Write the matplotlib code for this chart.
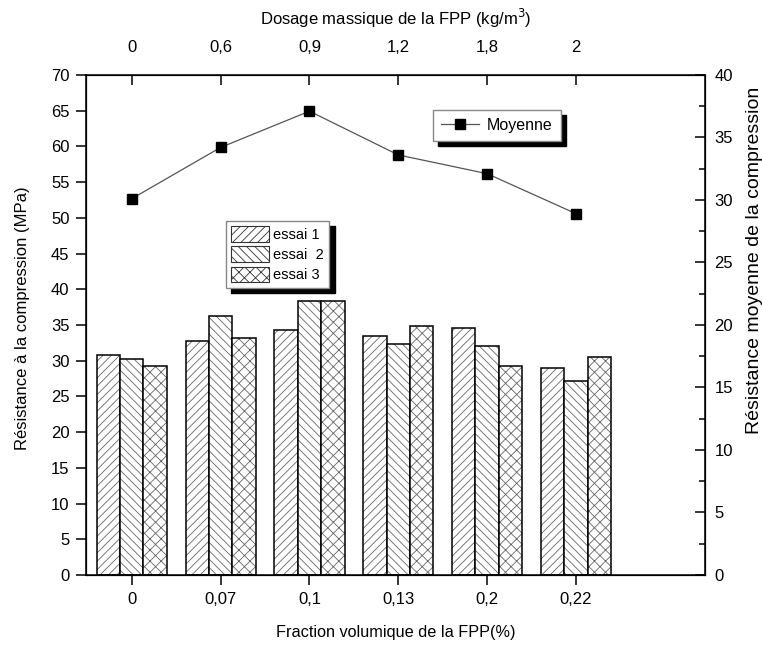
import numpy as np
import matplotlib
matplotlib.use("Agg")
import matplotlib.pyplot as plt
from matplotlib.patches import Patch
from matplotlib.lines import Line2D

plt.rcParams['font.family'] = ['Liberation Sans', 'DejaVu Sans']
plt.rcParams['hatch.linewidth'] = 0.6

# données
fraction = ['0', '0,07', '0,1', '0,13', '0,2', '0,22']
dosage = ['0', '0,6', '0,9', '1,2', '1,8', '2']
essai1 = [30.8, 32.8, 34.3, 33.5, 34.6, 29.0]
essai2 = [30.3, 36.3, 38.4, 32.4, 32.0, 27.1]
essai3 = [29.2, 33.2, 38.3, 34.8, 29.3, 30.5]
moyenne = [30.1, 34.2, 37.1, 33.6, 32.1, 28.9]

x = np.arange(len(fraction))
w = 0.263
hatches = ['////', '\\\\\\\\', 'xxx']
noms = ['essai 1', 'essai  2', 'essai 3']

fig = plt.figure(figsize=(7.62, 6.46), dpi=100)
ax = fig.add_axes([0.113, 0.110, 0.812, 0.774])

for k, vals in enumerate([essai1, essai2, essai3]):
    pos = x + (k - 1) * w
    ax.bar(pos, vals, w, color='white', edgecolor='#666666', hatch=hatches[k], linewidth=0)
    ax.bar(pos, vals, w, color='none', edgecolor='black', linewidth=1.1)

ax.set_xlim(-0.514, 6.45)
ax.set_ylim(0, 70)
ax.set_yticks(np.arange(0, 71, 5))
ax.set_xticks(x)
ax.set_xticklabels(fraction)
ax.tick_params(axis='both', direction='out', length=7, width=1.1, labelsize=12)
ax.tick_params(axis='y', pad=5)
ax.tick_params(axis='x', pad=5)
ax.set_xlabel('Fraction volumique de la FPP(%)', fontsize=11.7)
ax.xaxis.set_label_coords(0.5, -0.1)
ax.set_ylabel('Résistance à la compression (MPa)', fontsize=12)
ax.yaxis.set_label_coords(-0.09, 0.514)
for s in ax.spines.values():
    s.set_linewidth(1.1)

handles = [Patch(facecolor='white', edgecolor='#333333', hatch=h, linewidth=0.8) for h in hatches]
ax.legend(handles, noms, loc='upper left', bbox_to_anchor=(0.226, 0.708),
          borderaxespad=0, fancybox=False, edgecolor='#888888', framealpha=1,
          fontsize=10.5, handlelength=2.6, handleheight=1.3, handletextpad=0.3,
          labelspacing=0.3, borderpad=0.35,
          shadow={'ox': 4, 'oy': -4, 'color': 'black', 'alpha': 1})

# axe de droite : moyenne
ax2 = ax.twinx()
ax2.plot(x, moyenne, color='#555555', linewidth=0.9, marker='s', markersize=7,
         markerfacecolor='black', markeredgecolor='black')
ax2.set_ylim(0, 40)
ax2.set_yticks(np.arange(0, 41, 5))
ax2.set_yticks(np.arange(2.5, 40, 5), minor=True)
ax2.tick_params(axis='y', which='major', direction='in', length=7, width=1.1, labelsize=12, pad=7)
ax2.tick_params(axis='y', which='minor', direction='in', length=4, width=1.1)
ax2.set_ylabel('Résistance moyenne de la compression', fontsize=14)
ax2.yaxis.set_label_coords(1.066, 0.63)

# axe du haut : dosage massique
ax3 = ax.twiny()
ax3.set_xlim(ax.get_xlim())
ax3.set_xticks(x)
ax3.set_xticklabels(dosage)
ax3.tick_params(axis='x', direction='in', length=7, width=1.1, labelsize=12, pad=14)
ax3.set_xlabel('Dosage massique de la FPP (kg/m$^3$)', fontsize=12)
ax3.xaxis.set_label_coords(0.5, 1.1)

h_moy = Line2D([], [], color='#555555', linewidth=0.9, marker='s', markersize=7,
               markerfacecolor='black', markeredgecolor='black')
ax3.legend([h_moy], ['Moyenne'], loc='upper left', bbox_to_anchor=(0.56, 0.93),
           borderaxespad=0, fancybox=False, edgecolor='#888888', framealpha=1,
           fontsize=11.5, handlelength=2.4, handletextpad=0.5, borderpad=0.5,
           shadow={'ox': 4, 'oy': -4, 'color': 'black', 'alpha': 1})

fig.savefig('out.png', dpi=100)
